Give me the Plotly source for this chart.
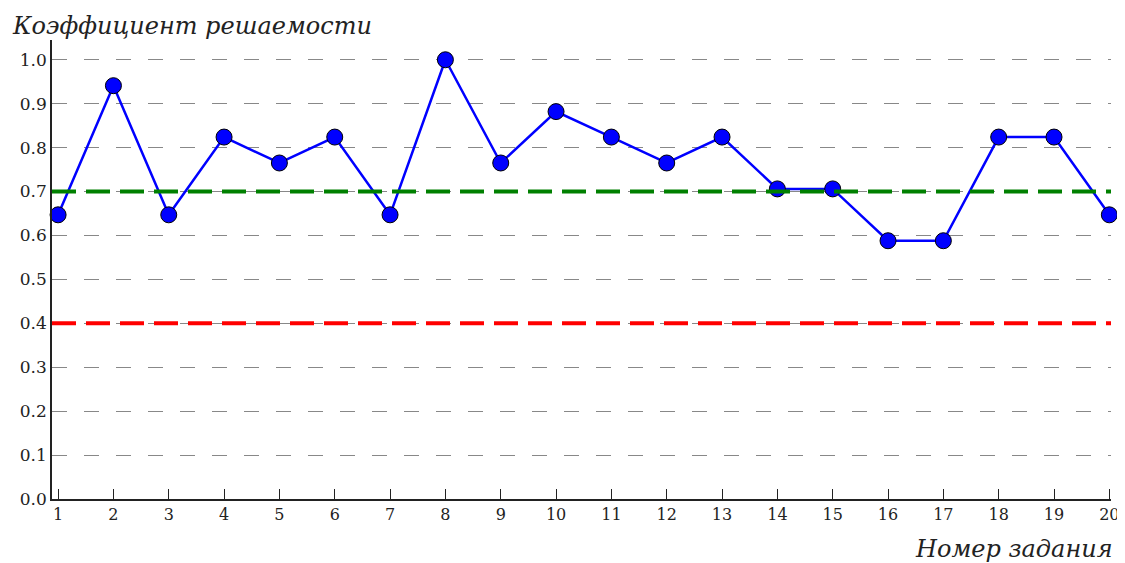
import plotly.graph_objects as go

tasks = list(range(1, 21))
coef = [0.647, 0.941, 0.647, 0.824, 0.765, 0.824, 0.647, 1.0, 0.765, 0.882,
        0.824, 0.765, 0.824, 0.706, 0.706, 0.588, 0.588, 0.824, 0.824, 0.647]
upper_level = 0.7
lower_level = 0.4
y_ticks = [round(i * 0.1, 1) for i in range(11)]
y_tick_labels = [f"{v:.1f}" for v in y_ticks]

font_family = "DejaVu Serif"

fig = go.Figure()
fig.add_trace(go.Scatter(
    x=tasks, y=coef, mode="lines+markers",
    line=dict(color="#0000ff", width=2.5),
    marker=dict(size=16, color="#0000ff", line=dict(color="black", width=1)),
    cliponaxis=False, showlegend=False,
))

for lvl, col in [(upper_level, "green"), (lower_level, "red")]:
    fig.add_shape(type="line", xref="paper", x0=0, x1=1, yref="y", y0=lvl, y1=lvl,
                  line=dict(color=col, width=4, dash="24px,10px"), layer="above")

fig.update_layout(
    width=1125, height=555,
    margin=dict(l=44, r=22, t=32, b=64, autoexpand=False),
    plot_bgcolor="white", paper_bgcolor="white",
    font=dict(family=font_family, size=17, color="#222"),
    xaxis=dict(range=[0.89, 20.03], tickmode="array", tickvals=tasks,
               ticktext=[str(t) for t in tasks], ticks="inside", ticklen=10,
               tickcolor="#222", showline=True, linecolor="#222", linewidth=1.5,
               showgrid=False, zeroline=False, tickfont=dict(size=16),
               ticklabeloverflow="allow", automargin=False),
    yaxis=dict(range=[0, 1.045], tickmode="array", tickvals=y_ticks,
               ticktext=y_tick_labels, ticks="", showline=True, linecolor="#222",
               linewidth=1.5, showgrid=True, gridcolor="#888", gridwidth=1.2,
               griddash="15px,17px", zeroline=False, tickfont=dict(size=17),
               automargin=False),
    annotations=[
        dict(text="<i>Коэффициент решаемости</i>", xref="paper", yref="paper",
             x=-0.04, y=1.0, xanchor="left", yanchor="bottom", yshift=-2,
             showarrow=False, font=dict(size=24, family=font_family, color="#222")),
        dict(text="<i>Номер задания</i>", xref="paper", yref="paper",
             x=1.0, y=0, xanchor="right", yanchor="top", yshift=-34, xshift=4,
             showarrow=False, font=dict(size=24, family=font_family, color="#222")),
    ],
)

fig.write_html("out.html")
